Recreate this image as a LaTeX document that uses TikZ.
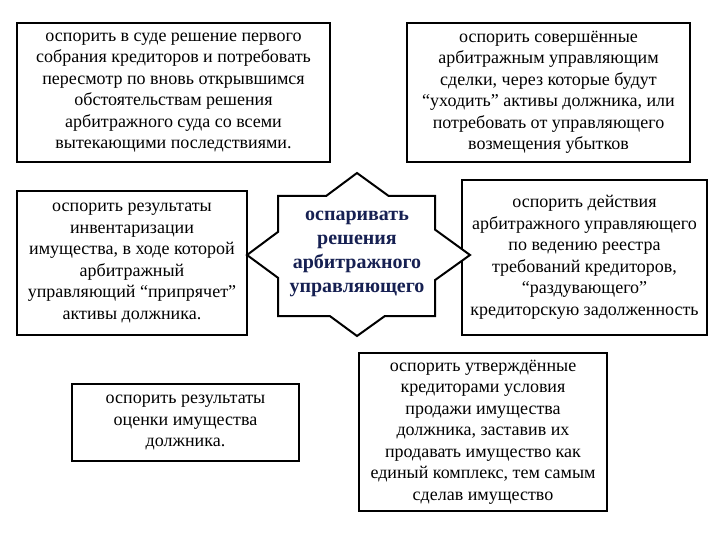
\documentclass[tikz,border=0pt]{standalone}
\usepackage{fontspec}
\setmainfont{Liberation Serif}
\definecolor{zvezda}{RGB}{22,32,82}

\tikzset{
  pole/.style={draw, line width=2pt, align=center, inner sep=0pt, font=\fontsize{18}{21.5}\selectfont},
  zv/.style={draw, line width=2pt, fill=white, line join=miter},
}

\begin{document}
\begin{tikzpicture}[x=1pt, y=-1pt]
  \useasboundingbox (0,0) rectangle (720,540);

  %boxes
  \node[pole, minimum width=313pt, minimum height=139pt] (sud) at (173.5,92.5)
    {оспорить в суде решение первого\\собрания кредиторов и потребовать\\пересмотр по вновь открывшимся\\обстоятельствам решения\\арбитражного суда со всеми\\вытекающими последствиями.};

  \node[pole, minimum width=283pt, minimum height=139pt] (sdelki) at (548.5,92.5)
    {оспорить совершённые\\арбитражным управляющим\\сделки, через которые будут\\“уходить” активы должника, или\\потребовать от управляющего\\возмещения убытков};

  \node[pole, minimum width=230pt, minimum height=144pt] (invent) at (132,263)
    {оспорить результаты\\инвентаризации\\имущества, в ходе которой\\арбитражный\\управляющий “припрячет”\\активы должника.};

  \node[pole, minimum width=245pt, minimum height=155pt] (reestr) at (584.5,257.5)
    {оспорить действия\\арбитражного управляющего\\по ведению реестра\\требований кредиторов,\\“раздувающего”\\кредиторскую задолженность};

  \node[pole, minimum width=227pt, minimum height=77pt] (ocenka) at (185.5,422.5)
    {оспорить результаты\\оценки имущества\\должника.};

  \node[pole, minimum width=248pt, minimum height=158pt] (prodazha) at (483,432)
    {оспорить утверждённые\\кредиторами условия\\продажи имущества\\должника, заставив их\\продавать имущество как\\единый комплекс, тем самым\\сделав имущество};

  %star
  \draw[zv] (357,173) -- (388.7,196) -- (435,196) -- (435,229.6) -- (470,255)
    -- (435,280.1) -- (435,316) -- (384.9,316) -- (357,336) -- (329.8,316)
    -- (278,316) -- (278,277.8) -- (247,255) -- (278,231.9) -- (278,196)
    -- (326.1,196) -- cycle;
  \node[align=center, inner sep=0pt, text=zvezda, font=\fontsize{20}{24}\selectfont\bfseries] (centr) at (357,254)
    {оспаривать\\решения\\арбитражного\\управляющего};

\end{tikzpicture}
\end{document}
